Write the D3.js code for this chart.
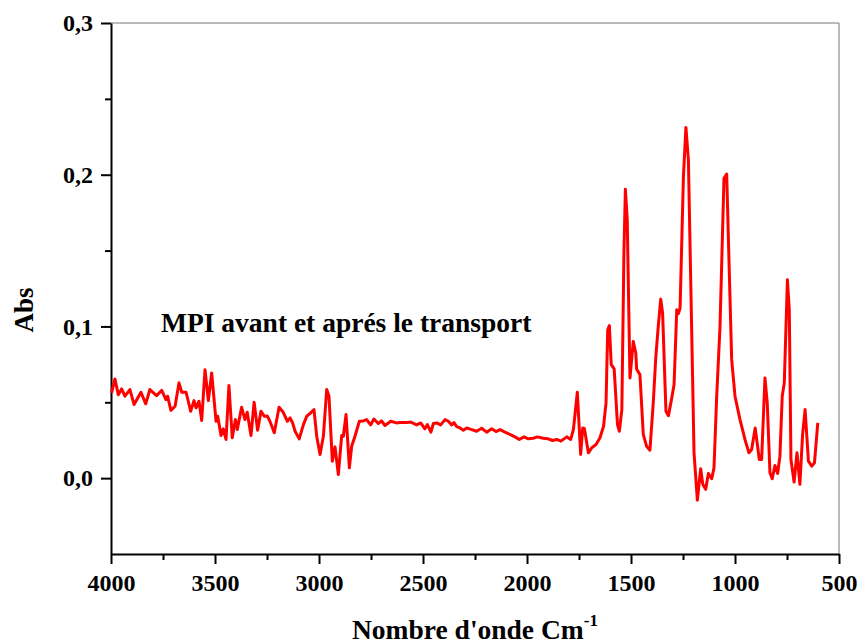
<!DOCTYPE html>
<meta charset="utf-8">
<style>
  body { margin: 0; background: #fff; }
  svg { font-family: 'Liberation Serif', 'Times New Roman', serif; font-weight: bold; }
  .axis text { font-family: 'Liberation Serif', 'Times New Roman', serif; font-size: 24px; font-weight: bold; fill: #000; }
</style>
<script src="https://d3js.org/d3.v7.min.js"></script>
<body>
<svg id="chart" width="857" height="644"></svg>
<script>

// wavenumber (cm-1) and absorbance
var wavenumber = [3997,3981,3965,3949,3933,3909,3889,3856,3833,3813,3781,3756,3736,3728,3712,3692,3673,3660,3639,3617,3601,3591,3577,3564,3548,3532,3516,3495,3487,3471,3460,3447,3433,3417,3402,3393,3372,3356,3345,3327,3312,3295,3279,3263,3249,3236,3215,3192,3172,3152,3139,3127,3115,3095,3075,3059,3040,3024,3011,2995,2979,2963,2952,2936,2923,2907,2891,2883,2870,2854,2843,2827,2806,2787,2771,2752,2736,2715,2699,2683,2655,2627,2611,2579,2559,2531,2511,2491,2479,2462,2450,2434,2415,2394,2378,2362,2351,2338,2322,2306,2290,2266,2242,2218,2194,2170,2149,2130,2106,2082,2058,2037,2014,1994,1970,1950,1922,1898,1877,1857,1837,1809,1790,1777,1758,1742,1732,1724,1705,1689,1668,1649,1632,1620,1612,1604,1595,1581,1565,1556,1544,1534,1527,1518,1505,1489,1477,1473,1457,1441,1425,1409,1393,1381,1369,1357,1348,1332,1320,1304,1293,1280,1272,1264,1248,1236,1224,1197,1181,1165,1155,1141,1128,1112,1101,1088,1072,1053,1040,1029,1016,1000,976,952,933,920,903,883,872,856,845,832,821,808,795,784,773,763,748,739,731,716,702,688,675,663,647,631,618,602];
var absorbance = [0.0562,0.0654,0.055,0.0588,0.054,0.0584,0.0485,0.0566,0.049,0.0584,0.0544,0.0579,0.0518,0.054,0.0447,0.0474,0.0628,0.0566,0.0566,0.0441,0.0511,0.0463,0.0507,0.038,0.0715,0.0511,0.0693,0.0375,0.0408,0.0281,0.0325,0.0255,0.061,0.0266,0.0386,0.032,0.0467,0.0386,0.0434,0.0281,0.05,0.0316,0.0441,0.0408,0.041,0.0375,0.0299,0.0467,0.0434,0.0375,0.0397,0.0364,0.0309,0.0259,0.0353,0.0408,0.043,0.0452,0.0276,0.0156,0.0276,0.0584,0.054,0.0112,0.0206,0.0024,0.0281,0.0276,0.0419,0.0068,0.021,0.0276,0.0375,0.0377,0.0386,0.0351,0.039,0.036,0.0377,0.0347,0.0375,0.0364,0.0366,0.0366,0.037,0.0351,0.0364,0.0325,0.0353,0.0303,0.036,0.0364,0.0351,0.0386,0.0375,0.0351,0.0366,0.034,0.0331,0.0316,0.0331,0.032,0.0309,0.0329,0.0303,0.0325,0.0307,0.032,0.0303,0.0288,0.0272,0.0255,0.0272,0.0259,0.0263,0.0272,0.0263,0.0259,0.0248,0.0255,0.0244,0.0272,0.0255,0.032,0.0566,0.0156,0.0331,0.0327,0.0167,0.0199,0.0222,0.0266,0.0342,0.0496,0.0978,0.1005,0.0748,0.072,0.0353,0.0309,0.0452,0.1483,0.1904,0.1702,0.066,0.0901,0.0825,0.072,0.0682,0.0288,0.021,0.0184,0.0496,0.0792,0.1,0.118,0.1088,0.0441,0.0412,0.0529,0.0616,0.111,0.1084,0.1121,0.1987,0.2312,0.2097,0.0167,-0.0145,0.0062,-0.0041,-0.0074,0.0031,-0.0004,0.0068,0.054,0.1,0.1976,0.2005,0.1439,0.0781,0.054,0.0386,0.0255,0.0167,0.0189,0.0331,0.0123,0.0123,0.066,0.0496,0.0035,-0.0004,0.0083,0.0031,0.0145,0.054,0.0628,0.1307,0.111,0.0123,-0.0026,0.0167,-0.0041,0.0288,0.0452,0.0112,0.0079,0.0101,0.0364];

var xTicks = [4000, 3500, 3000, 2500, 2000, 1500, 1000, 500];
var xMinor = [3750, 3250, 2750, 2250, 1750, 1250, 750];
var yTicks = [0, 0.1, 0.2, 0.3];
var yMinor = [0.05, 0.15, 0.25];

var svg = d3.select("#chart"),
    margin = {top: 23, right: 18, bottom: 90, left: 111},
    width = 857 - margin.left - margin.right,
    height = 644 - margin.top - margin.bottom;

var g = svg.append("g")
  .attr("transform", `translate(${margin.left},${margin.top})`);

var x = d3.scaleLinear().domain([4000, 500]).range([0, width]);
var y = d3.scaleLinear().domain([-0.05, 0.3]).range([height, 0]);

var comma = function(d) { return d3.format(".1f")(d).replace(".", ","); };

// frame (top and right)
g.append("line").attr("x1", 0).attr("x2", width).attr("y1", 0).attr("y2", 0)
  .attr("stroke", "#777").attr("stroke-width", 1);
g.append("line").attr("x1", width).attr("x2", width).attr("y1", 0).attr("y2", height)
  .attr("stroke", "#777").attr("stroke-width", 1);

// minor ticks
g.append("g").attr("transform", `translate(0,${height})`)
  .call(d3.axisBottom(x).tickValues(xMinor).tickSize(6).tickFormat(""))
  .call(a => a.select(".domain").remove())
  .selectAll("line").attr("stroke-width", 2);
g.append("g")
  .call(d3.axisLeft(y).tickValues(yMinor).tickSize(6).tickFormat(""))
  .call(a => a.select(".domain").remove())
  .selectAll("line").attr("stroke-width", 2);

// major axes
var xAxis = g.append("g").attr("class", "axis")
  .attr("transform", `translate(0,${height})`)
  .call(d3.axisBottom(x).tickValues(xTicks).tickSize(10).tickSizeOuter(0).tickPadding(10).tickFormat(d3.format("d")))
  .attr("font-family", "Liberation Serif, serif").attr("font-size", 24);
xAxis.select(".domain").attr("stroke-width", 2);
xAxis.selectAll("line").attr("stroke-width", 2);

var yAxis = g.append("g").attr("class", "axis")
  .call(d3.axisLeft(y).tickValues(yTicks).tickSize(10).tickSizeOuter(0).tickPadding(8).tickFormat(comma))
  .attr("font-family", "Liberation Serif, serif").attr("font-size", 24);
yAxis.select(".domain").attr("stroke-width", 2);
yAxis.selectAll("line").attr("stroke-width", 2);

// spectrum
var line = d3.line()
  .x(function(d, i) { return x(wavenumber[i]); })
  .y(function(d) { return y(d); });

g.append("path")
  .datum(absorbance)
  .attr("fill", "none")
  .attr("stroke", "#ff0000")
  .attr("stroke-width", 3)
  .attr("stroke-linejoin", "round")
  .attr("d", line);

// annotation
svg.append("text")
  .attr("x", 161).attr("y", 332)
  .style("font-size", "27.5px")
  .text("MPI avant et aprés le transport");

// axis titles
var xt = svg.append("text")
  .attr("x", 352).attr("y", 639)
  .style("font-size", "27.5px");
xt.append("tspan").text("Nombre d'onde Cm");
xt.append("tspan").attr("dy", -13).style("font-size", "17px").text("-1");

svg.append("text")
  .attr("transform", "translate(33,310) rotate(-90)")
  .attr("text-anchor", "middle")
  .style("font-size", "27px")
  .text("Abs");

</script>
</body>
